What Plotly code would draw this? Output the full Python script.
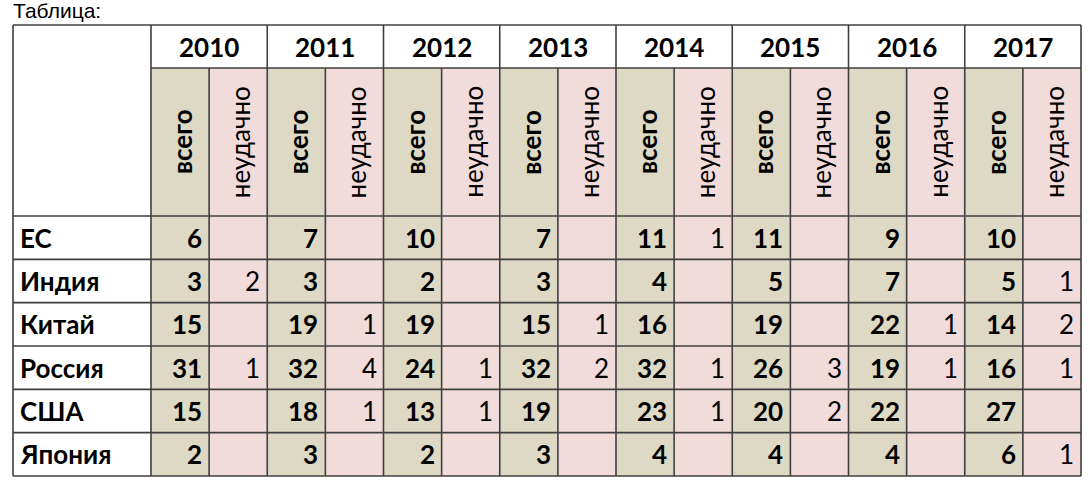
import plotly.graph_objects as go

years = [2010, 2011, 2012, 2013, 2014, 2015, 2016, 2017]
countries = ["ЕС", "Индия", "Китай", "Россия", "США", "Япония"]
sub_labels = ["всего", "неудачно"]

# запуски всего, по странам (строки) и годам (столбцы)
total = [
    [6, 7, 10, 7, 11, 11, 9, 10],
    [3, 3, 2, 3, 4, 5, 7, 5],
    [15, 19, 19, 15, 16, 19, 22, 14],
    [31, 32, 24, 32, 32, 26, 19, 16],
    [15, 18, 13, 19, 23, 20, 22, 27],
    [2, 3, 2, 3, 4, 4, 4, 6],
]
# неудачные запуски (None = пустая ячейка)
failed = [
    [None, None, None, None, 1, None, None, None],
    [2, None, None, None, None, None, None, 1],
    [None, 1, None, 1, None, None, 1, 2],
    [1, 4, 1, 2, 1, 3, 1, 1],
    [None, 1, 1, None, 1, 2, None, None],
    [None, None, None, None, None, None, None, 1],
]

W, H = 1092, 490
X0, X_LAB, X_END = 13, 151, 1081
Y0, Y_YEAR, Y_SUB, Y_END = 25, 68, 216, 476
SUB_W = (X_END - X_LAB) / (2 * len(years))
ROW_H = (Y_END - Y_SUB) / len(countries)

BEIGE = "#DDD9C4"
PINK = "#F2DCDB"
LINE = "#3f3f3f"
FONT = "Lato, Noto Sans"

fig = go.Figure()
shapes = []
annotations = []


def col_x(i):
    return X_LAB + i * SUB_W


# фон ячеек
for i in range(2 * len(years)):
    color = BEIGE if i % 2 == 0 else PINK
    shapes.append(dict(type="rect", x0=col_x(i), x1=col_x(i + 1), y0=Y_YEAR, y1=Y_END,
                       fillcolor=color, line_width=0, layer="below"))

# линии сетки
lw = 1.6
shapes.append(dict(type="line", x0=X0, x1=X_END, y0=Y0, y1=Y0, line=dict(color=LINE, width=lw)))
shapes.append(dict(type="line", x0=X_LAB, x1=X_END, y0=Y_YEAR, y1=Y_YEAR, line=dict(color=LINE, width=lw)))
for r in range(len(countries) + 1):
    y = Y_SUB + r * ROW_H
    shapes.append(dict(type="line", x0=X0, x1=X_END, y0=y, y1=y, line=dict(color=LINE, width=lw)))
shapes.append(dict(type="line", x0=X0, x1=X0, y0=Y0, y1=Y_END, line=dict(color=LINE, width=lw)))
for i in range(2 * len(years) + 1):
    top = Y0 if i % 2 == 0 else Y_YEAR
    shapes.append(dict(type="line", x0=col_x(i), x1=col_x(i), y0=top, y1=Y_END,
                       line=dict(color=LINE, width=lw)))

# заголовки годов
for k, yr in enumerate(years):
    annotations.append(dict(x=(col_x(2 * k) + col_x(2 * k + 2)) / 2, y=(Y0 + Y_YEAR) / 2,
                            text="<b>%d</b>" % yr, showarrow=False,
                            font=dict(family=FONT, size=26, color="black")))
    for j, lab in enumerate(sub_labels):
        txt = "<b>%s</b>" % lab if j == 0 else lab
        annotations.append(dict(x=(col_x(2 * k + j) + col_x(2 * k + j + 1)) / 2 + 2,
                                y=(Y_YEAR + Y_SUB) / 2, text=txt, textangle=-90,
                                showarrow=False,
                                font=dict(family=FONT, size=26, color="black")))

# строки таблицы
for r, c in enumerate(countries):
    yc = Y_SUB + (r + 0.5) * ROW_H
    annotations.append(dict(x=X0 + 5, y=yc, text="<b>%s</b>" % c, xanchor="left",
                            showarrow=False, font=dict(family=FONT, size=26, color="black")))
    for k in range(len(years)):
        v = total[r][k]
        annotations.append(dict(x=col_x(2 * k + 1) - 5, y=yc, text="<b>%d</b>" % v,
                                xanchor="right", showarrow=False,
                                font=dict(family=FONT, size=26, color="black")))
        f = failed[r][k]
        if f is not None:
            annotations.append(dict(x=col_x(2 * k + 2) - 5, y=yc, text="%d" % f,
                                    xanchor="right", showarrow=False,
                                    font=dict(family=FONT, size=26, color="black")))

annotations.append(dict(x=11, y=10, text="Таблица:", xanchor="left", showarrow=False,
                        font=dict(family="Liberation Sans, Arial", size=21, color="black")))

fig.update_layout(
    width=W, height=H,
    margin=dict(l=0, r=0, t=0, b=0),
    paper_bgcolor="white", plot_bgcolor="white",
    xaxis=dict(range=[0, W], visible=False, fixedrange=True),
    yaxis=dict(range=[H, 0], visible=False, fixedrange=True),
    shapes=shapes, annotations=annotations,
    showlegend=False,
)
# убираем стандартный отступ body, чтобы таблица легла в окно целиком
fig.write_html("out.html", config={"displayModeBar": False},
               post_script="document.body.style.margin = '0';")
